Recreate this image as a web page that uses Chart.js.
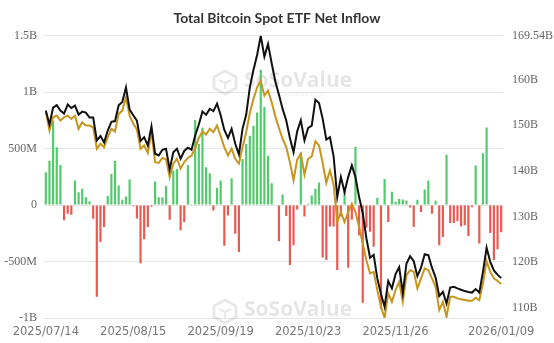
<!DOCTYPE html>
<html>
<head>
<meta charset="utf-8">
<script src="https://cdn.jsdelivr.net/npm/chart.js@4.4.1/dist/chart.umd.min.js"></script>
<style>
  html, body { margin: 0; padding: 0; background: #fff; }
  #wrap { width: 554px; height: 343px; }
</style>
</head>
<body>
<div id="wrap"><canvas id="inflow" width="554" height="343"></canvas></div>
<script>
// trading days covered by the chart (US market holidays skipped)
const firstDay = '2025-07-14';
const lastDay = '2026-01-09';
const holidays = ['2025-09-01', '2025-11-27', '2025-12-25', '2026-01-01'];

// dates that get a label on the x axis
const labelledDates = ['2025/07/14', '2025/08/15', '2025/09/19', '2025/10/23', '2025/11/26', '2026/01/09'];

// daily net inflow, millions USD
const netInflowM = [
  291, 394, 747, 512, 356, -135, -76, -85, 218, 115,
  144, 70, 35, -120, -811, -326, -194, 80, 276, 394,
  173, 47, 76, 226, -10, -118, -515, -303, -194, -15,
  209, 70, 70, 170, -129, 306, 320, -223, -150, 356,
  10, 753, 541, 688, 335, 282, -48, 153, 218, -360,
  -91, 238, -253, -415, 409, 541, 615, 703, 820, 1200,
  870, 438, 194, 6, -320, 95, -97, -530, -355, -38,
  467, -100, 12, 85, 144, 200, -463, -487, -190, -190,
  -575, -100, 150, -555, -130, 516, -268, -866, -200, -235,
  -368, 65, -920, 232, -150, 118, 30, 55, 50, 40,
  -20, -193, 47, -62, 138, 218, -76, 38, -355, -282,
  447, -159, -159, -141, -188, -179, -273, -18, 350, -341,
  459, 688, -248, -487, -390, -240
];

// total net assets, billions USD
const netAssetsB = [
  153.18, 150.13, 153.84, 154.38, 153.18, 152.53, 154.49, 153.73, 154.27, 152.31,
  152.96, 152.75, 151.66, 151.66, 146.64, 147.62, 146.20, 148.82, 150.72, 150.89,
  154.34, 155.08, 158.26, 153.40, 152.16, 151.00, 146.53, 147.36, 145.55, 149.69,
  143.74, 143.37, 144.61, 144.83, 140.31, 144.09, 144.83, 142.65, 144.35, 145.07,
  144.63, 147.73, 150.13, 152.96, 152.27, 153.55, 153.07, 154.71, 152.16, 148.93,
  147.18, 149.19, 145.92, 143.59, 149.19, 152.27, 158.26, 162.08, 165.35, 169.54,
  165.00, 167.73, 163.54, 159.55, 156.63, 153.55, 151.00, 147.18, 144.09, 148.65,
  151.07, 146.64, 149.37, 149.91, 155.54, 154.82, 151.37, 146.86, 147.36, 143.19,
  134.27, 138.64, 135.36, 138.64, 141.19, 138.64, 134.27, 130.72, 125.27, 121.01,
  121.62, 116.48, 113.05, 110.28, 115.89, 114.30, 117.41, 118.94, 113.27, 119.75,
  121.34, 120.25, 116.98, 118.83, 121.78, 121.56, 118.83, 116.65, 112.62, 113.55,
  111.02, 114.47, 114.64, 114.30, 113.99, 113.71, 113.49, 113.38, 114.14, 113.38,
  117.92, 123.19, 120.10, 118.22, 117.31, 116.54
];

// BTC price track on the same right-hand scale
const btcTrackB = [
  152.96, 148.82, 151.72, 152.09, 151.00, 151.72, 152.09, 151.37, 152.09, 149.19,
  150.63, 149.91, 149.91, 149.54, 144.83, 145.92, 145.18, 147.36, 149.19, 148.60,
  152.46, 153.18, 156.08, 152.09, 150.35, 149.04, 144.83, 145.55, 143.91, 148.60,
  141.91, 141.73, 142.82, 142.50, 138.64, 141.56, 142.65, 140.47, 141.91, 142.82,
  143.37, 145.00, 147.18, 148.60, 147.95, 149.19, 148.45, 149.91, 147.56, 145.18,
  143.37, 144.83, 142.65, 141.56, 145.18, 148.45, 152.64, 155.73, 158.26, 159.73,
  156.45, 157.54, 154.99, 151.92, 149.37, 147.01, 145.18, 141.91, 137.92, 142.45,
  143.74, 139.18, 142.65, 143.19, 146.47, 145.55, 141.73, 137.37, 140.10, 137.00,
  128.82, 131.00, 128.82, 131.00, 132.83, 131.00, 127.73, 124.11, 120.47, 117.57,
  117.92, 113.92, 110.28, 107.82, 113.20, 111.37, 113.92, 115.74, 111.37, 117.20,
  118.29, 117.92, 114.30, 116.48, 118.66, 118.29, 116.48, 114.64, 109.56, 111.37,
  108.10, 112.46, 112.46, 112.11, 111.90, 111.74, 111.59, 111.59, 112.24, 111.74,
  115.39, 120.25, 117.92, 116.48, 115.95, 115.23
];

const leftTicksM = [-1000, -500, 0, 500, 1000, 1500];
const rightTicksB = [110, 120, 130, 140, 150, 160, 169.54];
const rightMinB = 107.82;
const rightMaxB = 169.54;

function tradingDays(start, end, skip) {
  const out = [];
  const d = new Date(start + 'T00:00:00Z');
  const stop = new Date(end + 'T00:00:00Z');
  while (d <= stop) {
    const iso = d.toISOString().slice(0, 10);
    const wd = d.getUTCDay();
    if (wd !== 0 && wd !== 6 && skip.indexOf(iso) < 0) out.push(iso.replace(/-/g, '/'));
    d.setUTCDate(d.getUTCDate() + 1);
  }
  return out;
}

const dates = tradingDays(firstDay, lastDay, holidays);

function fmtFlow(v) {
  if (v === 0) return '0';
  if (Math.abs(v) >= 1000) return (v / 1000) + 'B';
  return v + 'M';
}

// faint brand mark behind the data
const watermark = {
  id: 'watermark',
  beforeDatasetsDraw(chart) {
    const ctx = chart.ctx;
    const spots = [{ x: 214, y: 82 }, { x: 214, y: 311 }];
    ctx.save();
    spots.forEach(function (p) {
      ctx.strokeStyle = 'rgba(0,0,0,0.09)';
      ctx.lineWidth = 3;
      ctx.lineJoin = 'round';
      ctx.beginPath();
      ctx.moveTo(p.x + 11, p.y - 11);
      ctx.lineTo(p.x + 22, p.y - 5);
      ctx.lineTo(p.x + 22, p.y + 6);
      ctx.lineTo(p.x + 11, p.y + 12);
      ctx.lineTo(p.x, p.y + 6);
      ctx.lineTo(p.x, p.y - 5);
      ctx.closePath();
      ctx.stroke();
      ctx.lineWidth = 2;
      ctx.beginPath();
      ctx.moveTo(p.x + 5, p.y - 2);
      ctx.lineTo(p.x + 11, p.y + 1);
      ctx.lineTo(p.x + 17, p.y - 2);
      ctx.moveTo(p.x + 11, p.y + 1);
      ctx.lineTo(p.x + 11, p.y + 7);
      ctx.stroke();
      ctx.fillStyle = 'rgba(0,0,0,0.1)';
      ctx.font = 'bold 21px "Open Sans"';
      ctx.textBaseline = 'middle';
      ctx.textAlign = 'left';
      ctx.fillText('SoSoValue', p.x + 30, p.y - 1);
      ctx.fillStyle = 'rgba(0,0,0,0.07)';
      ctx.font = '7px "Open Sans"';
      ctx.fillText('sosovalue.com', p.x + 62, p.y + 12);
    });
    ctx.restore();
  }
};

const ctx = document.getElementById('inflow').getContext('2d');

new Chart(ctx, {
  type: 'bar',
  data: {
    labels: dates,
    datasets: [
      {
        type: 'line',
        data: netAssetsB,
        yAxisID: 'y1',
        borderColor: '#111111',
        borderWidth: 2,
        pointRadius: 0,
        tension: 0,
        order: 0
      },
      {
        type: 'line',
        data: btcTrackB,
        yAxisID: 'y1',
        borderColor: '#c8951f',
        borderWidth: 2,
        pointRadius: 0,
        tension: 0,
        order: 1
      },
      {
        type: 'bar',
        data: netInflowM,
        yAxisID: 'y',
        backgroundColor: netInflowM.map(v => v >= 0 ? '#52cb6c' : '#e85a50'),
        categoryPercentage: 1,
        barPercentage: 0.6,
        order: 2
      }
    ]
  },
  options: {
    responsive: false,
    animation: false,
    layout: { padding: { left: 0, right: 0, top: 0, bottom: 0 } },
    plugins: {
      legend: { display: false },
      tooltip: { enabled: false },
      title: {
        display: true,
        text: 'Total Bitcoin Spot ETF Net Inflow',
        color: '#333333',
        font: { family: 'Lato', size: 14, weight: 'bold' },
        padding: { top: 10, bottom: 9 }
      }
    },
    scales: {
      x: {
        grid: { display: false, drawTicks: false },
        border: { display: false },
        ticks: {
          autoSkip: false,
          maxRotation: 0,
          padding: 7,
          color: '#777777',
          font: { family: 'DejaVu Sans', size: 11.5 },
          callback: function (value, index) {
            return labelledDates.indexOf(dates[index]) >= 0 ? dates[index] : '';
          }
        },
        afterFit: function (scale) { scale.height = 25; }
      },
      y: {
        position: 'left',
        min: leftTicksM[0],
        max: leftTicksM[leftTicksM.length - 1],
        afterBuildTicks: function (axis) {
          axis.ticks = leftTicksM.map(v => ({ value: v }));
        },
        grid: { color: '#e6e6e6', lineWidth: 1, drawTicks: false },
        border: { display: false },
        ticks: {
          padding: 7,
          color: '#666666',
          font: { family: 'Liberation Serif', size: 12 },
          callback: function (v) { return fmtFlow(v); }
        },
        afterFit: function (scale) { scale.width = 44; }
      },
      y1: {
        position: 'right',
        min: rightMinB,
        max: rightMaxB,
        afterBuildTicks: function (axis) {
          axis.ticks = rightTicksB.map(v => ({ value: v }));
        },
        grid: { display: false, drawTicks: false },
        border: { display: false },
        ticks: {
          padding: 9,
          color: '#666666',
          font: { family: 'Liberation Serif', size: 12 },
          callback: function (v) { return v + 'B'; }
        },
        afterFit: function (scale) { scale.width = 51; }
      }
    }
  },
  plugins: [watermark]
});
</script>
</body>
</html>
